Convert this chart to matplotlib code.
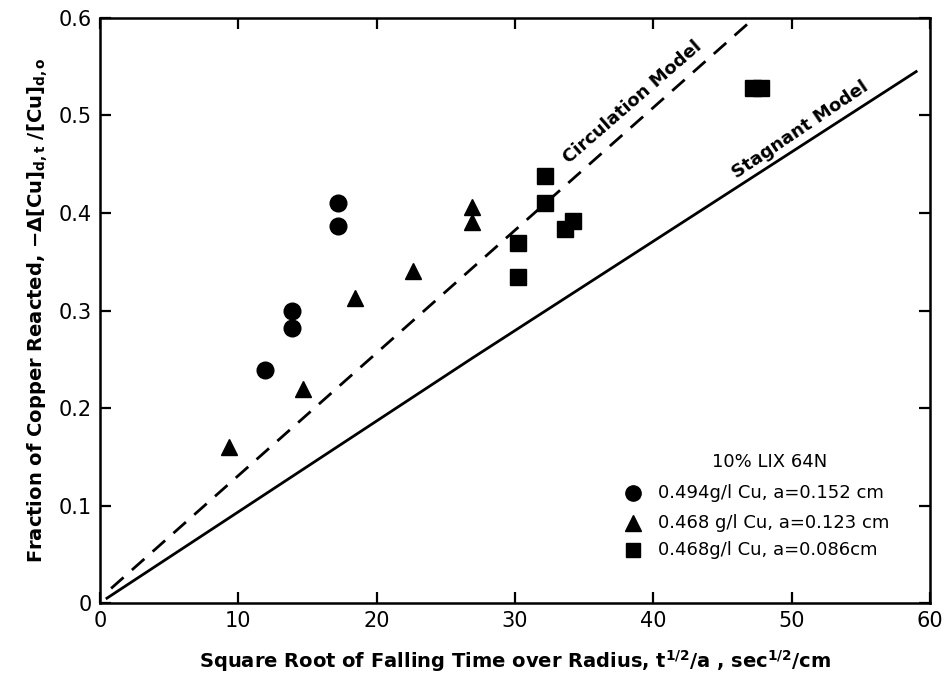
import matplotlib
matplotlib.use("Agg")
import matplotlib.pyplot as plt

# Data
circ_x = [11.9, 13.9, 13.9, 17.2, 17.2]
circ_y = [0.239, 0.299, 0.282, 0.410, 0.387]
tri_x = [9.3, 14.7, 18.4, 22.6, 26.9, 26.9]
tri_y = [0.160, 0.220, 0.313, 0.340, 0.406, 0.391]
sq_x = [30.2, 30.2, 32.2, 32.2, 33.6, 34.2, 47.2, 47.8]
sq_y = [0.369, 0.334, 0.438, 0.410, 0.384, 0.392, 0.528, 0.528]

circulation_x = [0.8, 47.3]
circulation_y = [0.015, 0.600]
stagnant_x = [0.5, 27.0, 59.0]
stagnant_y = [0.005, 0.252, 0.545]

legend_labels = ["0.494g/l Cu, a=0.152 cm",
                 "0.468 g/l Cu, a=0.123 cm",
                 "0.468g/l Cu, a=0.086cm"]
legend_title = "10% LIX 64N"

xticks = [0, 10, 20, 30, 40, 50, 60]
yticks = [0, 0.1, 0.2, 0.3, 0.4, 0.5, 0.6]
yticklabels = ["0", "0.1", "0.2", "0.3", "0.4", "0.5", "0.6"]

plt.rcParams['font.family'] = ['DejaVu Sans']
plt.rcParams['mathtext.default'] = 'bf'
fig = plt.figure(figsize=(9.49, 6.90), dpi=100)
ax = fig.add_axes([0.1054, 0.126, 0.8746, 0.848])

ax.plot(circulation_x, circulation_y, color='black', lw=2, ls=(0, (6, 4)))
ax.plot(stagnant_x, stagnant_y, color='black', lw=2)

ax.plot(circ_x, circ_y, 'o', color='black', ms=12)
ax.plot(tri_x, tri_y, '^', color='black', ms=12)
ax.plot(sq_x, sq_y, 's', color='black', ms=11)

ax.set_xlim(0, 60)
ax.set_ylim(0, 0.6)
ax.set_xticks(xticks)
ax.set_yticks(yticks)
ax.set_yticklabels(yticklabels)
ax.tick_params(direction='in', length=8, width=1.6, labelsize=15,
               top=True, right=True, pad=6)
for s in ax.spines.values():
    s.set_linewidth(1.8)

ax.set_xlabel("Square Root of Falling Time over Radius, $t^{1/2}/a$ , sec$^{1/2}$/cm",
              fontsize=14, fontweight='bold', labelpad=12)
ax.set_ylabel("Fraction of Copper Reacted, $-\\Delta[Cu]_{d,t}\\ /[Cu]_{d,o}$",
              fontsize=14, fontweight='bold', labelpad=6)

ax.text(38.5, 0.514, "Circulation Model", rotation=41, fontsize=13,
        fontweight='bold', ha='center', va='center')
ax.text(50.6, 0.485, "Stagnant Model", rotation=34, fontsize=13,
        fontweight='bold', ha='center', va='center')

# legend
ax.text(48.4, 0.145, legend_title, fontsize=13, ha='center', va='center')
mk = ['o', '^', 's']
rows = [0.113, 0.082, 0.054]
for m, yy, lab in zip(mk, rows, legend_labels):
    ax.plot([38.5], [yy], m, color='black', ms=11 if m != 's' else 10.5)
    ax.text(40.3, yy, lab, fontsize=13, ha='left', va='center')

fig.savefig("out.png", dpi=100)
